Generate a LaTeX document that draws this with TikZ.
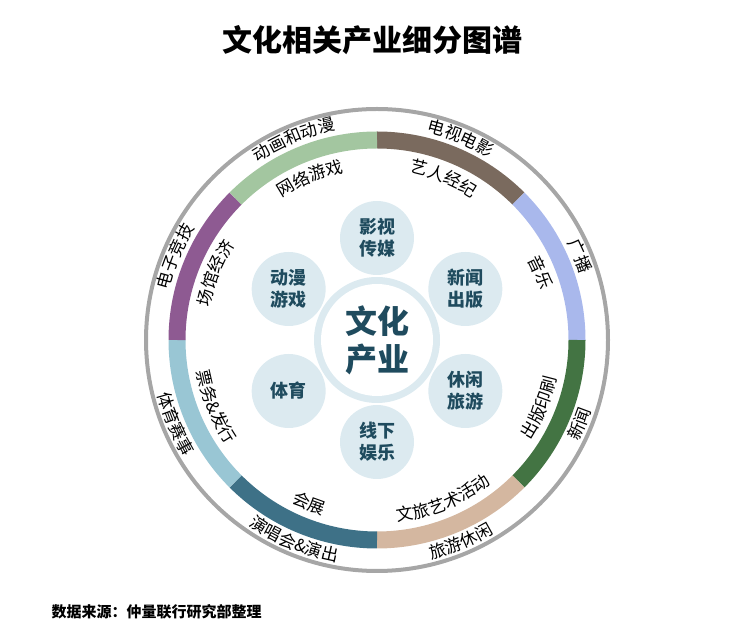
\documentclass[tikz,border=0pt]{standalone}
\usepackage{fontspec}
\setmainfont{Noto Sans CJK SC}
\usetikzlibrary{calc,decorations.text}
\definecolor{cBrown}{HTML}{7A6A5E}
\definecolor{cLav}{HTML}{A9B8EC}
\definecolor{cGreen}{HTML}{437443}
\definecolor{cTan}{HTML}{D4B7A0}
\definecolor{cTeal}{HTML}{3E7187}
\definecolor{cSky}{HTML}{99C6D4}
\definecolor{cPurple}{HTML}{8E5A92}
\definecolor{cMint}{HTML}{A3C6A0}
\definecolor{bubble}{HTML}{DCEAF0}
\definecolor{ink}{HTML}{1F4B5E}
\newcommand{\ringfont}{\fontsize{17}{17}\selectfont}
% curved label: angle, radius, text
\newcommand{\arclabel}[3]{%
  \pgfmathsetmacro{\sgn}{#1>0 ? 1 : -1}%
  \pgfmathsetmacro{\aS}{#1+24*\sgn}%
  \pgfmathsetmacro{\aE}{#1-24*\sgn}%
  \pgfmathsetmacro{\rr}{#2-6*\sgn}%
  \path[decorate,decoration={text along path,text align=center,text={|\ringfont|#3}}]
    ($(origo)+(\aS:\rr)$) arc (\aS:\aE:\rr);}
\tikzset{
  bubbletext/.style={font=\fontsize{18}{22}\selectfont\bfseries, text=ink, align=center},
}
\begin{document}
\begin{tikzpicture}[x=1pt,y=1pt]
 \useasboundingbox (0,0) rectangle (744,642);
 \coordinate (origo) at (377,302);

    % title
    \node (title) at (372,602) {\fontsize{30}{30}\selectfont\bfseries 文化相关产业细分图谱};

    % outer rim
    \draw[line width=4pt,gray!70] (origo) circle (231);

    % coloured ring, one arc per sector
    \foreach \col [count=\i] in {cBrown,cLav,cGreen,cTan,cTeal,cSky,cPurple,cMint}
      \draw[line width=17pt,\col] ($(origo)+(90-45*\i+45:200)$) arc (90-45*\i+45:90-45*\i:200);

    % sector labels
    \foreach \outer/\inner [count=\i] in {电视电影/艺人经纪,广播/音乐,新闻/出版印刷,旅游休闲/文旅艺术活动,%
                                          演唱会{\&}演出/会展,体育赛事/票务{\&}发行,电子竞技/场馆经济,动画和动漫/网络游戏}{
      \pgfmathsetmacro{\ang}{90-45*\i+22.5 < -180 ? 90-45*\i+22.5+360 : 90-45*\i+22.5}
      \arclabel{\ang}{220}{\outer}
      \arclabel{\ang}{177}{\inner}
    }

    % centre
    \fill[bubble] (origo) circle (63);
    \foreach \txt [count=\i] in {影视\\传媒,新闻\\出版,休闲\\旅游,线下\\娱乐,体育,动漫\\游戏}{
      \fill[bubble] ($(origo)+(150-60*\i:102)$) circle (37);
      \node[bubbletext] (b\i) at ($(origo)+(150-60*\i:102)$) {\txt};
    }
    \fill[white] (origo) circle (56);
    \node[font=\fontsize{32}{38}\selectfont\bfseries, text=ink, align=center] (core) at (origo) {文化\\产业};

    % source
    \node[anchor=west, font=\fontsize{15}{15}\selectfont\bfseries\itshape] (src) at (48,30) {数据来源：仲量联行研究部整理};
\end{tikzpicture}
\end{document}
